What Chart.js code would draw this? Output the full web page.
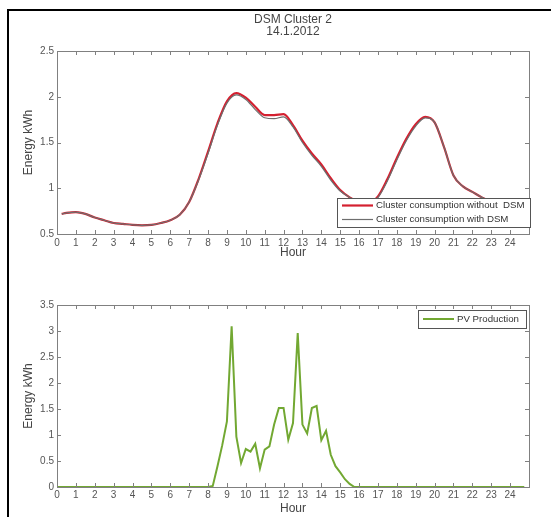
<!DOCTYPE html>
<html>
<head>
<meta charset="utf-8">
<script src="https://cdn.jsdelivr.net/npm/chart.js@4.4.1/dist/chart.umd.min.js"></script>
<style>
  body { margin: 0; background: #fff; }
  #frame { position: absolute; left: 7px; top: 9px; width: 600px; height: 600px;
           border-left: 2px solid #000; border-top: 2px solid #000; }
  canvas { position: absolute; left: 0; }
  #loadChart { top: 0; }
  #pvChart { top: 260px; }
</style>
</head>
<body>
<div id="frame"></div>
<canvas id="loadChart" width="551" height="260"></canvas>
<canvas id="pvChart" width="551" height="257"></canvas>
<script>
// tick labels of the hour axis
const hourTicks = [0, 1, 2, 3, 4, 5, 6, 7, 8, 9, 10, 11, 12, 13, 14, 15, 16, 17, 18, 19, 20, 21, 22, 23, 24];

// cluster consumption (kWh), half-hour readings
const loadHours = [0.25, 0.5, 1, 1.5, 2, 2.5, 3, 3.5, 4, 4.5, 5, 5.5, 6, 6.5, 7, 7.5, 8, 8.5, 9, 9.5,
  10, 10.5, 11, 11.5, 12, 12.5, 13, 13.5, 14, 14.5, 15, 15.5, 16, 16.5, 17, 17.5, 18, 18.5, 19, 19.5,
  20, 20.5, 21, 21.5, 22, 22.5, 23, 23.5, 24, 24.5];
const withoutDsm = [0.72, 0.73, 0.74, 0.72, 0.68, 0.65, 0.62, 0.61, 0.60, 0.595, 0.60, 0.62, 0.65, 0.71, 0.85, 1.10, 1.40, 1.71, 1.95, 2.04,
  1.99, 1.89, 1.80, 1.80, 1.81, 1.69, 1.52, 1.38, 1.26, 1.11, 0.98, 0.90, 0.85, 0.84, 0.91, 1.10, 1.33, 1.54, 1.70, 1.78,
  1.72, 1.45, 1.14, 1.02, 0.96, 0.90, 0.85, 0.80, 0.76, 0.74];
const withDsm = [0.72, 0.73, 0.74, 0.72, 0.68, 0.65, 0.62, 0.61, 0.60, 0.595, 0.60, 0.62, 0.65, 0.71, 0.85, 1.09, 1.38, 1.69, 1.93, 2.02,
  1.97, 1.86, 1.77, 1.76, 1.78, 1.67, 1.50, 1.36, 1.24, 1.09, 0.97, 0.90, 0.85, 0.84, 0.90, 1.08, 1.31, 1.52, 1.68, 1.77,
  1.72, 1.45, 1.14, 1.02, 0.96, 0.90, 0.85, 0.80, 0.76, 0.74];

// PV production (kWh), quarter-hour readings
const pvHours = [0, 8, 8.25, 8.5, 8.75, 9, 9.25, 9.5, 9.75, 10, 10.25, 10.5, 10.75, 11, 11.25, 11.5, 11.75, 12,
  12.25, 12.5, 12.75, 13, 13.25, 13.5, 13.75, 14, 14.25, 14.5, 14.75, 15, 15.25, 15.5, 15.75, 24.75];
const pvValues = [0, 0, 0.02, 0.40, 0.80, 1.26, 3.09, 0.97, 0.46, 0.73, 0.68, 0.83, 0.36, 0.72, 0.78, 1.20, 1.52, 1.52,
  0.91, 1.23, 2.96, 1.20, 1.03, 1.52, 1.56, 0.90, 1.08, 0.62, 0.40, 0.28, 0.15, 0.06, 0, 0];

const FONT = 'Liberation Sans, Arial, sans-serif';
const AXIS = '#808080';
const TEXT = '#555';

const pts = (xs, ys) => xs.map((x, i) => ({ x: x, y: ys[i] }));

// MATLAB style box with inward ticks on all four sides
const boxPlugin = {
  id: 'box',
  afterDatasetsDraw(chart) {
    const { ctx, chartArea: a, scales } = chart;
    ctx.save();
    ctx.strokeStyle = AXIS;
    ctx.lineWidth = 1;
    ctx.beginPath();
    scales.x.ticks.forEach(t => {
      const x = Math.round(scales.x.getPixelForValue(t.value)) + 0.5;
      ctx.moveTo(x, a.bottom); ctx.lineTo(x, a.bottom - 4);
      ctx.moveTo(x, a.top); ctx.lineTo(x, a.top + 4);
    });
    scales.y.ticks.forEach(t => {
      const y = Math.round(scales.y.getPixelForValue(t.value)) + 0.5;
      ctx.moveTo(a.left, y); ctx.lineTo(a.left + 4, y);
      ctx.moveTo(a.right, y); ctx.lineTo(a.right - 4, y);
    });
    ctx.stroke();
    ctx.strokeRect(Math.round(a.left) + 0.5, Math.round(a.top) + 0.5,
      Math.round(a.right - a.left), Math.round(a.bottom - a.top));
    ctx.restore();
  }
};

// legend boxed inside the axes, drawn over the lines
const insideLegend = {
  id: 'insideLegend',
  afterDraw(chart, args, opts) {
    const { ctx } = chart;
    const b = opts.box;
    ctx.save();
    ctx.fillStyle = '#fff';
    ctx.fillRect(b.x, b.y, b.w, b.h);
    ctx.strokeStyle = '#555';
    ctx.lineWidth = 1;
    ctx.strokeRect(b.x + 0.5, b.y + 0.5, b.w, b.h);
    ctx.font = '9.7px ' + FONT;
    ctx.textBaseline = 'middle';
    opts.items.forEach((it, i) => {
      const y = b.y + opts.first + i * opts.step;
      ctx.strokeStyle = it.color;
      ctx.lineWidth = it.width;
      ctx.beginPath();
      ctx.moveTo(b.x + 5, y); ctx.lineTo(b.x + 36, y);
      ctx.stroke();
      ctx.fillStyle = '#333';
      ctx.fillText(it.text, b.x + 39, y);
    });
    ctx.restore();
  }
};

const titlePlugin = {
  id: 'twoLineTitle',
  afterDraw(chart, args, opts) {
    if (!opts.lines) return;
    const { ctx, chartArea: a } = chart;
    ctx.save();
    ctx.font = '12px ' + FONT;
    ctx.fillStyle = '#444';
    ctx.textAlign = 'center';
    ctx.textBaseline = 'middle';
    const cx = (a.left + a.right) / 2;
    opts.lines.forEach((t, i) => ctx.fillText(t, cx, opts.y + i * 12));
    ctx.restore();
  }
};

function axes(yMin, yMax, xHeight, labelPad, titlePad) {
  return {
    x: {
      type: 'linear', min: 0, max: 25,
      afterBuildTicks: s => { s.ticks = hourTicks.map(v => ({ value: v })); },
      afterFit: s => { s.height = xHeight; },
      grid: { display: false, drawTicks: false },
      border: { display: false },
      ticks: { font: { size: 10, family: FONT }, color: TEXT, padding: labelPad, maxRotation: 0, autoSkip: false },
      title: { display: true, text: 'Hour', font: { size: 12, family: FONT }, color: '#444', padding: { top: 0, bottom: titlePad } }
    },
    y: {
      min: yMin, max: yMax,
      afterFit: s => { s.width = 57; },
      grid: { display: false, drawTicks: false },
      border: { display: false },
      ticks: { stepSize: 0.5, font: { size: 10, family: FONT }, color: TEXT, padding: 3,
        callback: v => String(Math.round(v * 10) / 10) },
      title: { display: true, text: 'Energy kWh', font: { size: 12, family: FONT }, color: '#444', padding: { top: 21, bottom: 0 } }
    }
  };
}

new Chart(document.getElementById('loadChart'), {
  type: 'line',
  data: {
    datasets: [
      { label: 'Cluster consumption with DSM', data: pts(loadHours, withDsm), borderColor: '#6e6e6e', borderWidth: 1.2,
        pointRadius: 0, cubicInterpolationMode: 'monotone', order: 0 },
      { label: 'Cluster consumption without  DSM', data: pts(loadHours, withoutDsm), borderColor: '#d42030', borderWidth: 2.2,
        pointRadius: 0, cubicInterpolationMode: 'monotone', order: 1 }
    ]
  },
  options: {
    responsive: false, animation: false, devicePixelRatio: 1,
    layout: { padding: { top: 51, right: 22, left: 0, bottom: 0 } },
    scales: axes(0.5, 2.5, 26, 3, 0),
    plugins: {
      legend: { display: false }, tooltip: { enabled: false },
      twoLineTitle: { lines: ['DSM Cluster 2', '14.1.2012'], y: 20 },
      insideLegend: {
        box: { x: 337, y: 198, w: 193, h: 29 }, first: 7.5, step: 14,
        items: [
          { text: 'Cluster consumption without  DSM', color: '#d42030', width: 2.2 },
          { text: 'Cluster consumption with DSM', color: '#6e6e6e', width: 1.2 }
        ]
      }
    }
  },
  plugins: [boxPlugin, insideLegend, titlePlugin]
});

new Chart(document.getElementById('pvChart'), {
  type: 'line',
  data: {
    datasets: [
      { label: 'PV Production', data: pts(pvHours, pvValues), borderColor: '#72a832', borderWidth: 2,
        pointRadius: 0, tension: 0 }
    ]
  },
  options: {
    responsive: false, animation: false, devicePixelRatio: 1,
    layout: { padding: { top: 45, right: 22, left: 0, bottom: 0 } },
    scales: axes(0, 3.5, 30, 2, 1),
    plugins: {
      legend: { display: false }, tooltip: { enabled: false },
      insideLegend: {
        box: { x: 418, y: 50, w: 108, h: 18 }, first: 9, step: 14,
        items: [ { text: 'PV Production', color: '#72a832', width: 2 } ]
      }
    }
  },
  plugins: [boxPlugin, insideLegend, titlePlugin]
});
</script>
</body>
</html>
